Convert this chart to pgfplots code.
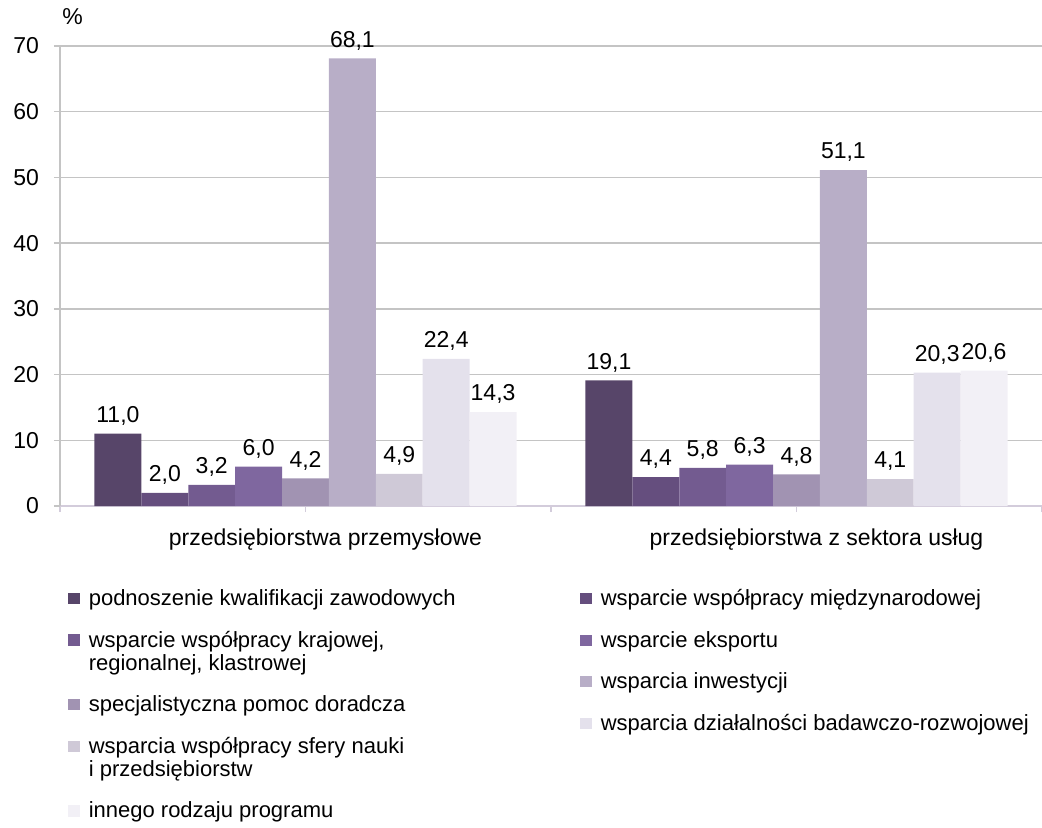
\documentclass[border=0pt]{standalone}
\usepackage{pgfplots}
\pgfplotsset{compat=1.18}
\usepackage{fontspec}
\setmainfont{Liberation Sans}

\definecolor{c1}{HTML}{574569}
\definecolor{c2}{HTML}{654E7E}
\definecolor{c3}{HTML}{735B90}
\definecolor{c4}{HTML}{7F679F}
\definecolor{c5}{HTML}{A193B2}
\definecolor{c6}{HTML}{B8AEC7}
\definecolor{c7}{HTML}{CFC9D7}
\definecolor{c8}{HTML}{E4E1EC}
\definecolor{c9}{HTML}{F2F0F6}
\definecolor{gridc}{HTML}{C4C4C4}
\definecolor{xline}{HTML}{D3CCDB}

\newcommand{\fnt}{\fontsize{11.5}{11.5}\selectfont}
\newcommand{\lfnt}{\fontsize{11}{11.5}\selectfont}

\pgfplotsset{
  legstyle/.style={
    legend cell align=left,
    legend image code/.code={\fill[##1] (0pt,-7.65pt) rectangle (5.7pt,-1.95pt);},
    legend style={draw=none, fill=none, inner sep=0pt, row sep=11pt, column sep=4.5pt,
      anchor=north west,
      nodes={inner sep=0pt, align=left, anchor=north west, font=\lfnt}},
  },
  bars/.style={ybar, bar width=0.0955, bar shift=0, draw=none, fill=#1},
}

\begin{document}
\begin{tikzpicture}[font=\fnt]
\useasboundingbox (-30pt,-161pt) rectangle (491pt,253pt);
\begin{axis}[
  scale only axis, width=491pt, height=230pt,
  xmin=0, xmax=2, ymin=0, ymax=70,
  axis lines*=left,
  x axis line style={draw=xline, line width=0.75pt},
  y axis line style={draw=gridc, line width=0.75pt},
  ytick={0,10,...,70},
  ymajorgrids, grid style={draw=gridc, line width=0.75pt},
  tick align=outside, major tick length=3pt,
  ytick style={draw=gridc, line width=0.75pt},
  xtick style={draw=xline, line width=0.75pt},
  xtick={0,1,2}, xticklabels={},
  extra x ticks={0.5,1.5},
  extra x tick labels={przedsiębiorstwa przemysłowe, przedsiębiorstwa z sektora usług},
  extra x tick style={tick style={draw=none}, xticklabel style={yshift=-5pt, xshift=10pt}},
  yticklabel style={xshift=-4pt},
  /pgf/number format/assume math mode=true,
  tick label style={font=\fnt, text=black},
  nodes near coords={\pgfmathprintnumber[fixed,fixed zerofill,precision=1,use comma]{\pgfplotspointmeta}},
  every node near coord/.append style={font=\fnt, text=black, inner sep=4pt},
  clip=false,
  legstyle,
  legend style={at={(0.00815,-0.1797)}},
]
\addplot[bars=c1] coordinates {(0.1180,11.0) (1.1180,19.1)};
\addplot[bars=c2, forget plot] coordinates {(0.2135,2.0) (1.2135,4.4)};
\addplot[bars=c3] coordinates {(0.3090,3.2) (1.3090,5.8)};
\addplot[bars=c4, forget plot] coordinates {(0.4045,6.0) (1.4045,6.3)};
\addplot[bars=c5] coordinates {(0.5000,4.2) (1.5000,4.8)};
\addplot[bars=c6, forget plot] coordinates {(0.5955,68.1) (1.5955,51.1)};
\addplot[bars=c7] coordinates {(0.6910,4.9) (1.6910,4.1)};
\addplot[bars=c8, forget plot] coordinates {(0.7865,22.4) (1.7865,20.3)};
\addplot[bars=c9] coordinates {(0.8820,14.3) (1.8820,20.6)};
\legend{\strut podnoszenie kwalifikacji zawodowych,
  {\strut wsparcie współpracy krajowej,\\\strut regionalnej, klastrowej},
  \strut specjalistyczna pomoc doradcza,
  {\strut wsparcia współpracy sfery nauki\\\strut i przedsiębiorstw},
  \strut innego rodzaju programu}
\node[anchor=south west, inner sep=0pt] at (axis description cs:0.002,1.045) {\%};
\end{axis}
\begin{axis}[
  scale only axis, width=491pt, height=230pt,
  xmin=0, xmax=2, ymin=0, ymax=70,
  hide axis,
  legstyle,
  legend style={at={(0.5295,-0.1797)}},
]
\addlegendimage{fill=c2, draw=none}
\addlegendimage{fill=c4, draw=none}
\addlegendimage{fill=c6, draw=none}
\addlegendimage{fill=c8, draw=none}
\legend{\strut wsparcie współpracy międzynarodowej,
  \strut wsparcie eksportu,
  \strut wsparcia inwestycji,
  \strut wsparcia działalności badawczo-rozwojowej}
\end{axis}
\end{tikzpicture}
\end{document}
